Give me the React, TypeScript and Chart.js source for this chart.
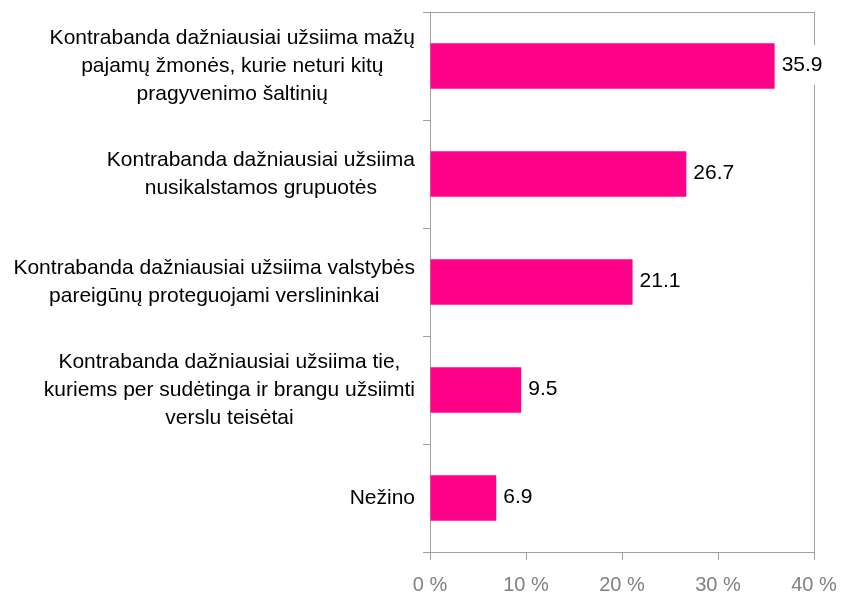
import React, { useEffect, useRef } from "react";
import { Chart, registerables } from "chart.js";

Chart.register(...registerables);

const categories: string[][] = [
  ["Kontrabanda dažniausiai užsiima mažų", "pajamų žmonės, kurie neturi kitų", "pragyvenimo šaltinių"],
  ["Kontrabanda dažniausiai užsiima", "nusikalstamos grupuotės"],
  ["Kontrabanda dažniausiai užsiima valstybės", "pareigūnų proteguojami verslininkai"],
  ["Kontrabanda dažniausiai užsiima tie,", "kuriems per sudėtinga ir brangu užsiimti", "verslu teisėtai"],
  ["Nežino"],
];
const values: number[] = [35.9, 26.7, 21.1, 9.5, 6.9];
const xTicks: number[] = [0, 10, 20, 30, 40];

const FONT = "'Liberation Sans', Arial, sans-serif";
const GRAY = "#a0a0a0";
const BAR = "#ff0088";

const customPlugin = {
  id: "custom",
  afterDatasetsDraw(chart: any) {
    const ctx = chart.ctx;
    const area = chart.chartArea;
    const yScale = chart.scales.y;
    const meta = chart.getDatasetMeta(0);
    ctx.save();
    // plot frame (top & right)
    ctx.strokeStyle = GRAY;
    ctx.lineWidth = 1;
    ctx.beginPath();
    ctx.moveTo(Math.round(area.left) + 0.5, Math.round(area.top) + 0.5);
    ctx.lineTo(Math.round(area.right) + 0.5, Math.round(area.top) + 0.5);
    ctx.lineTo(Math.round(area.right) + 0.5, Math.round(area.bottom) + 0.5);
    ctx.stroke();

    // category labels
    ctx.font = `21px ${FONT}`;
    ctx.fillStyle = "#000";
    ctx.textBaseline = "middle";
    ctx.textAlign = "center";
    const lh = 28;
    categories.forEach((lines, i) => {
      const cy = yScale.getPixelForValue(i);
      const widest = Math.max(...lines.map((l) => ctx.measureText(l).width));
      const cx = area.left - 15 - widest / 2;
      lines.forEach((l, j) => {
        ctx.fillText(l, cx, cy + (j - (lines.length - 1) / 2) * lh);
      });
    });

    // value labels
    ctx.textAlign = "left";
    meta.data.forEach((bar: any, i: number) => {
      const txt = values[i].toFixed(1);
      const w = ctx.measureText(txt).width;
      const x = bar.x + 7;
      const y = bar.y - 1;
      ctx.fillStyle = "#fff";
      ctx.fillRect(x - 2, y - 20, w + 4, 40);
      ctx.fillStyle = "#000";
      ctx.fillText(txt, x, y);
    });
    ctx.restore();
  },
};

export default function App() {
  const ref = useRef<HTMLCanvasElement>(null);
  useEffect(() => {
    if (!ref.current) return;
    const chart = new Chart(ref.current, {
      type: "bar",
      data: {
        labels: categories.map((c) => c.join(" ")),
        datasets: [
          {
            data: values,
            backgroundColor: BAR,
            borderWidth: 0,
            categoryPercentage: 1,
            barPercentage: 0.42,
          },
        ],
      },
      options: {
        indexAxis: "y",
        animation: false,
        responsive: false,
        maintainAspectRatio: false,
        layout: { padding: { top: 12, right: 28, bottom: 0, left: 0 } },
        plugins: { legend: { display: false }, tooltip: { enabled: false } },
        scales: {
          x: {
            min: 0,
            max: 40,
            afterBuildTicks: (scale: any) => {
              scale.ticks = xTicks.map((v) => ({ value: v }));
            },
            afterFit: (scale: any) => {
              scale.height = 42;
              scale.paddingLeft = 0;
              scale.paddingRight = 0;
            },
            grid: {
              drawOnChartArea: false,
              drawTicks: true,
              tickLength: 8,
              color: GRAY,
            },
            border: { display: true, color: GRAY },
            ticks: {
              color: "#808080",
              font: { family: FONT, size: 20 },
              padding: 13,
              callback: (v: any) => `${v} %`,
            },
          },
          y: {
            type: "category",
            afterFit: (scale: any) => {
              scale.width = 430;
            },
            grid: {
              offset: true,
              drawOnChartArea: false,
              drawTicks: true,
              tickLength: 7,
              color: GRAY,
            },
            border: { display: true, color: GRAY },
            ticks: { display: false },
          },
        },
      },
      plugins: [customPlugin],
    });
    return () => chart.destroy();
  }, []);
  return (
    <div style={{ position: "fixed", left: 0, top: 0, width: 842, height: 594, background: "#fff" }}>
      <canvas ref={ref} width={842} height={594} style={{ display: "block" }} />
    </div>
  );
}
